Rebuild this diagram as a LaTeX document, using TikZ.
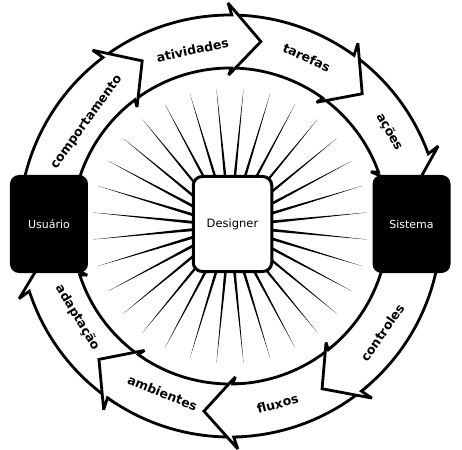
\documentclass[tikz,border=0pt]{standalone}
\usepackage{fontspec}
\setmainfont{DejaVu Sans}
\usepackage{tikz}

\begin{document}
\begin{tikzpicture}[line join=miter,miter limit=2.5,
  arrowshape/.style={fill=white,draw=black,line width=2.8pt},
  arrowlabel/.style={font=\bfseries\fontsize{12.5}{14}\selectfont,inner sep=0pt},
  actorbox/.style={fill=black,text=white,rounded corners=9pt,minimum width=78pt,minimum height=98pt,font=\fontsize{11}{13}\selectfont},
  designerbox/.style={fill=white,draw=black,line width=3pt,rounded corners=9pt,minimum width=78.5pt,minimum height=95pt,font=\fontsize{11.5}{13}\selectfont}]
\useasboundingbox (-230pt,-223pt) rectangle (232pt,226pt);
\foreach \k in {0,...,31}
  \fill[black] ({5.625+11.25*\k}:138pt) -- ({95.625+11.25*\k}:2pt) -- ({-84.375+11.25*\k}:2pt) -- cycle;
\foreach \a/\b in {53.5/21,89/55,126.5/90.5,180/128,-123/-161,-86.5/-124.5,-49/-88,0/-50.5}
  \filldraw[arrowshape] (\a:211pt) arc[start angle=\a,end angle=\b-1,radius=211pt] -- ({\b}:223pt) -- ({\b-10}:187pt) -- ({\b}:151pt) -- ({\b-1}:158pt) arc[start angle=\b-1,end angle=\a,radius=158pt] -- cycle;
\node[arrowlabel,rotate=54] (comportamento) at (144:177pt) {comportamento};
\node[arrowlabel,rotate=12] (atividades) at (102:180pt) {atividades};
\node[arrowlabel,rotate=-24.5] (tarefas) at (65.5:185pt) {tarefas};
\node[arrowlabel,rotate=-59.5] (acoes) at (30.5:185pt) {ações};
\node[arrowlabel,rotate=55] (controles) at (-35:186pt) {controles};
\node[arrowlabel,rotate=15] (fluxos) at (-75:184pt) {fluxos};
\node[arrowlabel,rotate=-22] (ambientes) at (-112:180pt) {ambientes};
\node[arrowlabel,rotate=-59] (adaptacao) at (-149:178pt) {adaptação};
\node[actorbox] (usuario) at (-181pt,2pt) {Usuário};
\node[actorbox] (sistema) at (181.5pt,2pt) {Sistema};
\node[designerbox] (designer) at (2.5pt,2pt) {Designer};
\end{tikzpicture}
\end{document}
